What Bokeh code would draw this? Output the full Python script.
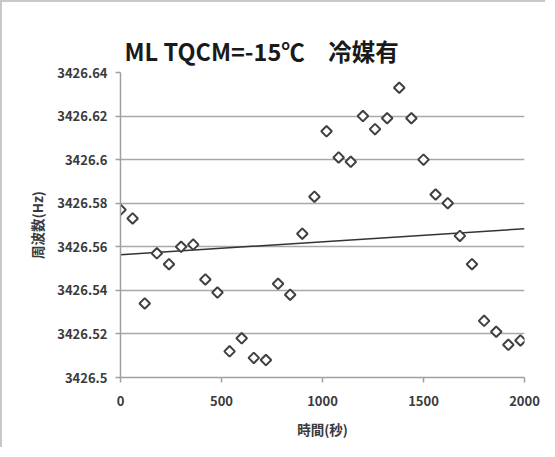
import numpy as np
from bokeh.plotting import figure
from bokeh.models import FixedTicker, CustomJSTickFormatter
from bokeh.embed import file_html
from bokeh.resources import INLINE

# Data (time in seconds, frequency in Hz)
time_s = [0, 60, 120, 180, 240, 300, 360, 420, 480, 540, 600, 660, 720, 780, 840,
          900, 960, 1020, 1080, 1140, 1200, 1260, 1320, 1380, 1440, 1500, 1560,
          1620, 1680, 1740, 1800, 1860, 1920, 1980]
freq_hz = [3426.577, 3426.573, 3426.534, 3426.557, 3426.552, 3426.560, 3426.561,
           3426.545, 3426.539, 3426.512, 3426.518, 3426.509, 3426.508, 3426.543,
           3426.538, 3426.566, 3426.583, 3426.613, 3426.601, 3426.599, 3426.620,
           3426.614, 3426.619, 3426.633, 3426.619, 3426.600, 3426.584, 3426.580,
           3426.565, 3426.552, 3426.526, 3426.521, 3426.515, 3426.517]
# linear trendline as drawn in the chart (value at t=0 and t=2000)
trend_t = [0, 2000]
trend_f = [3426.5563, 3426.5683]
y_ticks = [3426.5, 3426.52, 3426.54, 3426.56, 3426.58, 3426.6, 3426.62, 3426.64]
x_ticks = [0, 500, 1000, 1500, 2000]
title_text = "ML TQCM=-15℃　冷媒有"
x_label = "時間(秒)"
y_label = "周波数(Hz)"

JP = "Noto Sans CJK JP"

p = figure(width=545, height=447, output_backend="svg", toolbar_location=None,
           x_range=(0, 2000), y_range=(3426.5, 3426.64),
           min_border_left=118, min_border_right=23, min_border_top=70, min_border_bottom=72)
p.styles = {"border-left": "2px solid #c8c8c8", "border-top": "2px solid #c8c8c8"}

p.title.text = title_text
p.title.text_font = JP
p.title.text_font_size = "23.5px"
p.title.text_font_style = "bold"
p.title.text_color = "#1a1a1a"
p.title.align = "left"
p.title.offset = 4

p.outline_line_color = None
p.background_fill_color = "white"
p.border_fill_color = "white"

p.xgrid.grid_line_color = None
p.ygrid.grid_line_color = "#a8a8a8"
p.ygrid.grid_line_width = 1.5

for ax in (p.xaxis[0], p.yaxis[0]):
    ax.axis_line_color = "#a0a0a0"
    ax.axis_line_width = 1.5
    ax.major_tick_line_color = "#a0a0a0"
    ax.major_tick_line_width = 1.5
    ax.major_tick_out = 5
    ax.major_tick_in = 0
    ax.minor_tick_line_color = None
    ax.major_label_text_font = JP
    ax.major_label_text_font_style = "bold"
    ax.major_label_text_font_size = "13px"
    ax.major_label_text_color = "#3a3a3a"
    ax.axis_label_text_font = JP
    ax.axis_label_text_font_style = "bold"
    ax.axis_label_text_font_size = "13.5px"
    ax.axis_label_text_color = "#3a3a3a"

p.yaxis.ticker = FixedTicker(ticks=y_ticks)
p.yaxis.formatter = CustomJSTickFormatter(
    code="return tick.toFixed(2).replace(/0+$/, '').replace(/\\.$/, '');")
p.xaxis.ticker = FixedTicker(ticks=x_ticks)
p.xaxis.axis_label = x_label
p.yaxis.axis_label = y_label
p.xaxis.major_label_standoff = 13
p.xaxis.axis_label_standoff = 10
p.yaxis.major_label_standoff = 8
p.yaxis.axis_label_standoff = 7

p.line(trend_t, trend_f, line_color="#333333", line_width=1.5)

p.scatter(time_s, freq_hz, marker="square", angle=np.pi / 4, size=7.5,
          fill_color="white", line_color="#404040", line_width=2)

open("out.html", "w").write(file_html(p, INLINE))
